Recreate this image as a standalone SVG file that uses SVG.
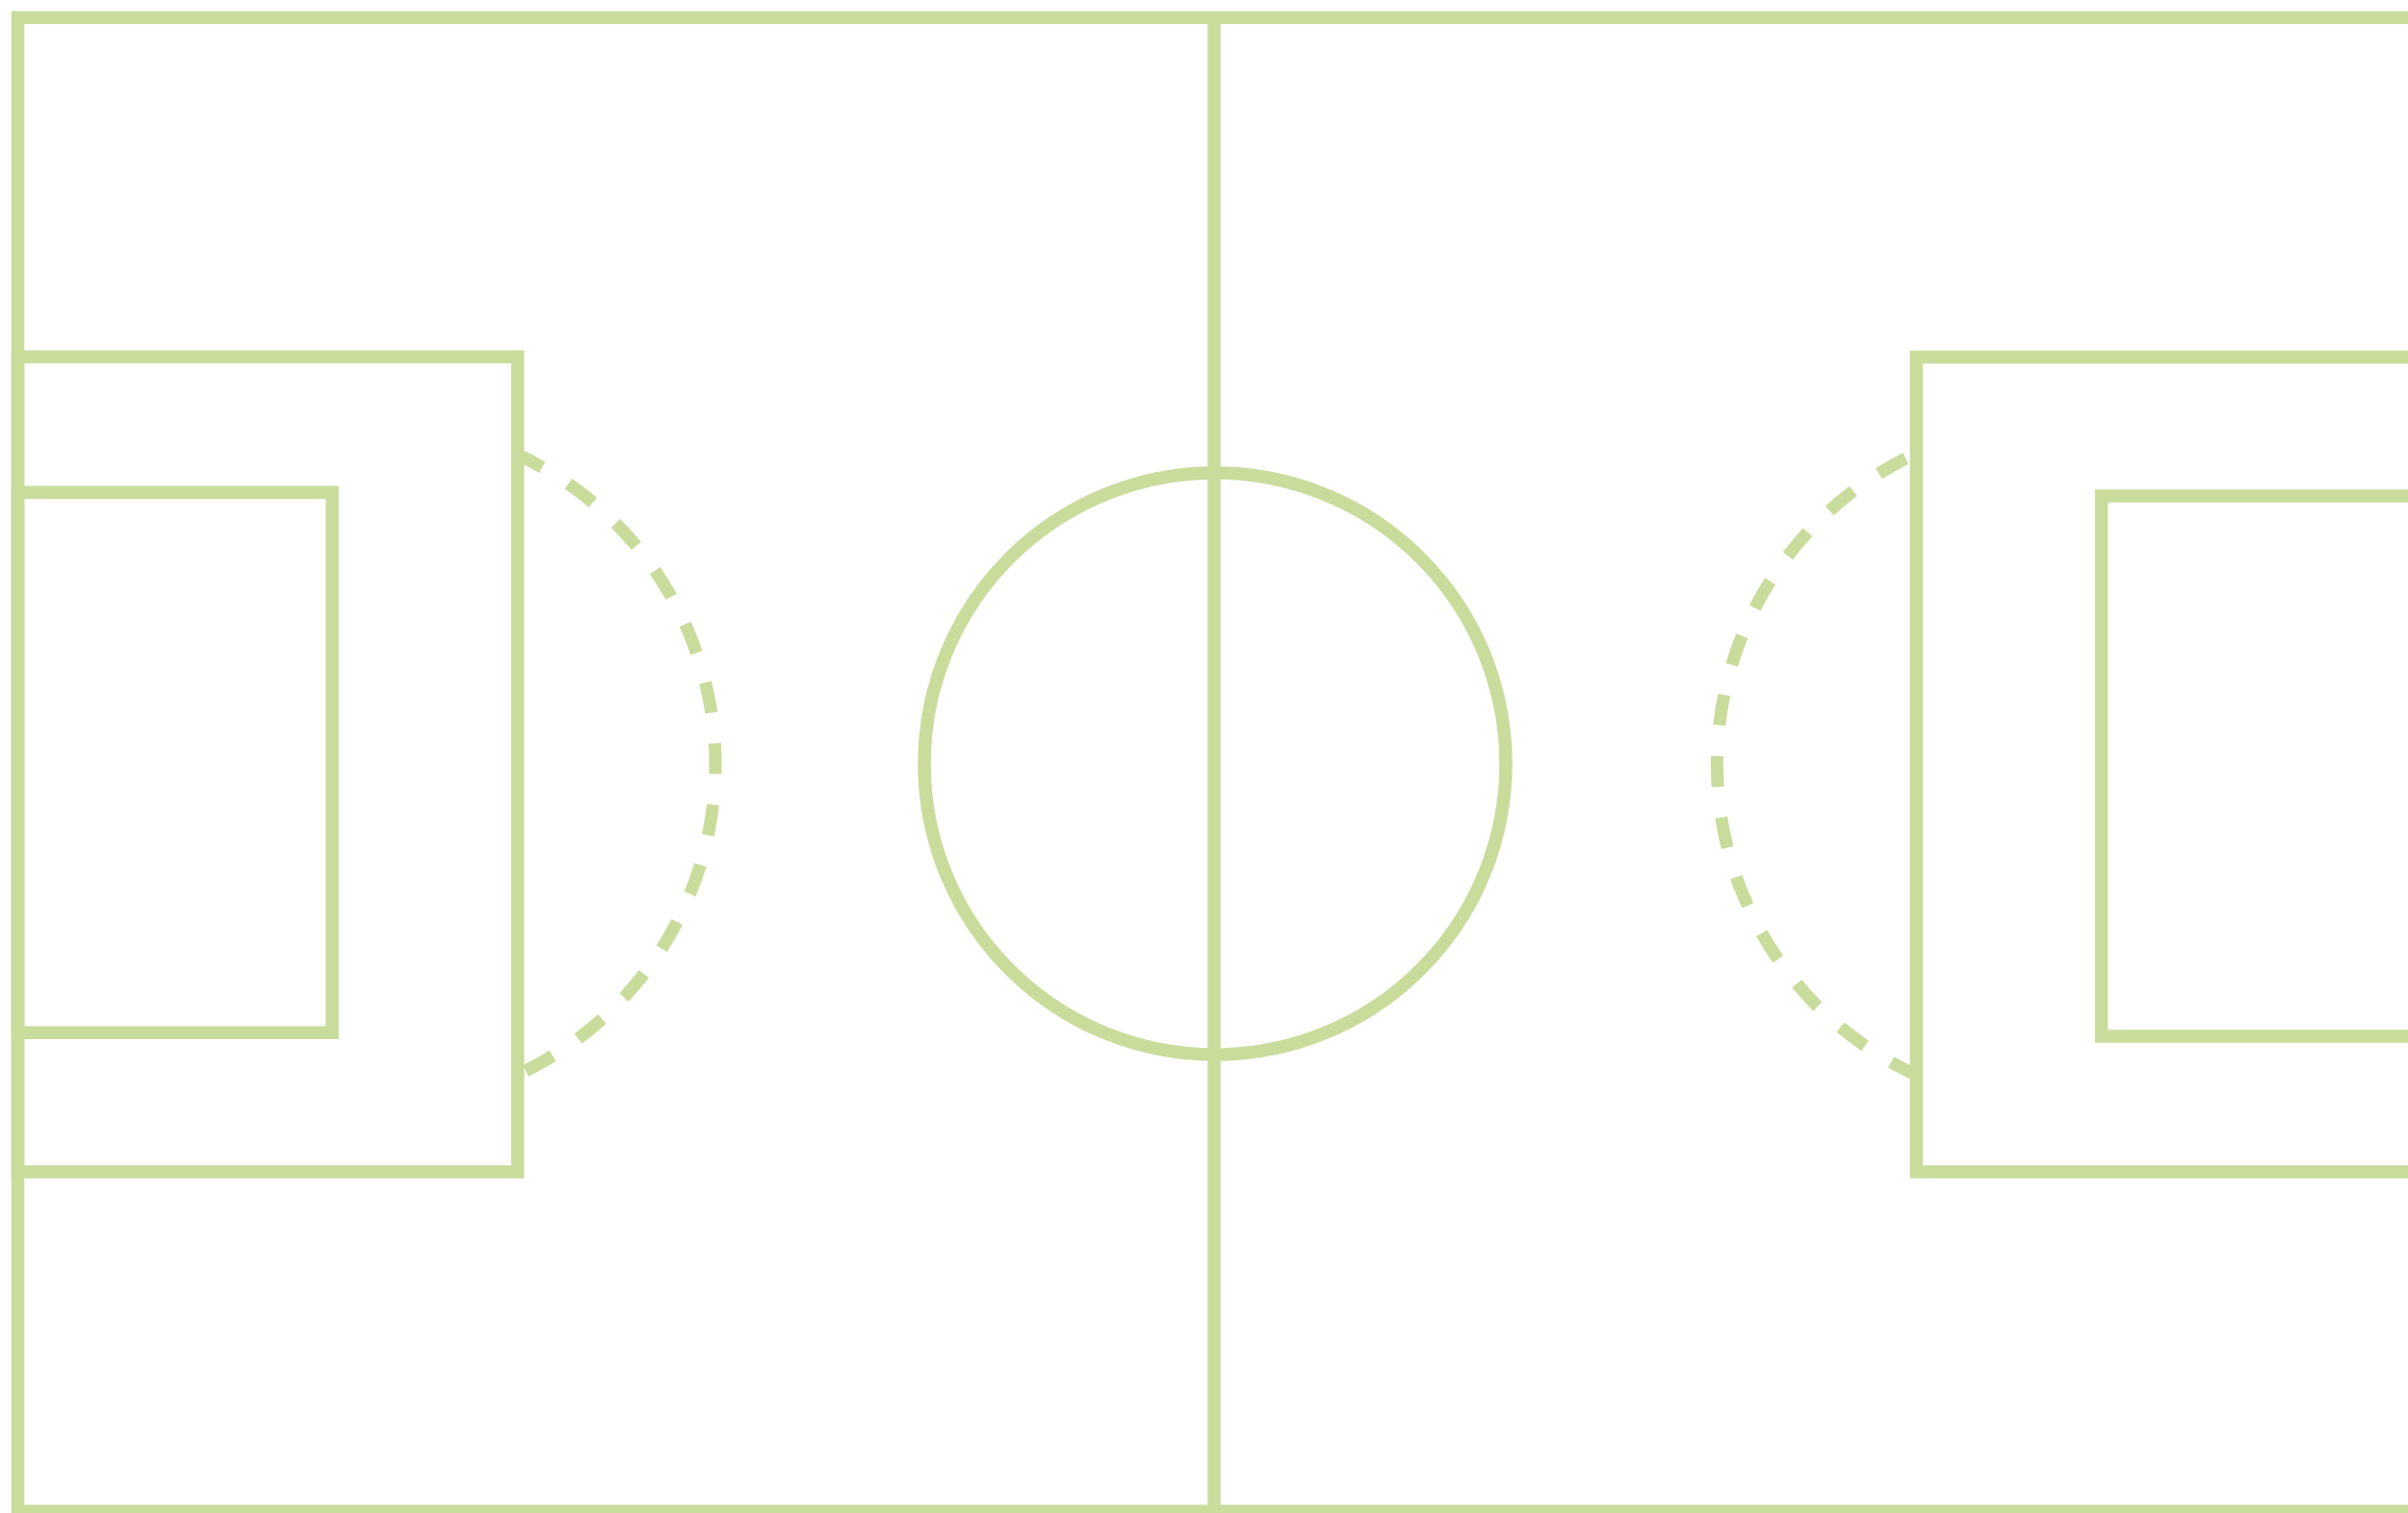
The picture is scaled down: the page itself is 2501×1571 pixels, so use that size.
<svg xmlns="http://www.w3.org/2000/svg" width="2501" height="1571" viewBox="0 0 2501 1571">
  <style>
    .ln { fill: none; stroke: #c9dc9c; stroke-width: 13.5; }
    .dash { fill: none; stroke: #c9dc9c; stroke-width: 13; stroke-dasharray: 32 32; stroke-dashoffset: 3; }
  </style>
  <rect x="0" y="0" width="2501" height="1571" fill="#ffffff"/>
  <g id="field">
    <rect class="ln" x="18.5" y="18.25" width="2500" height="1551"/>
  </g>
  <g id="halfway-line">
    <line class="ln" x1="1261" y1="18" x2="1261" y2="1571"/>
  </g>
  <g id="centre-circle">
    <circle class="ln" cx="1262" cy="793" r="302"/>
  </g>
  <g id="left-penalty-area">
    <rect class="ln" x="18.5" y="370.5" width="519.2" height="846.3"/>
  </g>
  <g id="left-goal-area">
    <rect class="ln" x="18.5" y="511.3" width="326.5" height="560.9"/>
  </g>
  <g id="right-penalty-area">
    <rect class="ln" x="1990.4" y="370.8" width="600" height="845.9"/>
  </g>
  <g id="right-goal-area">
    <rect class="ln" x="2182.6" y="515" width="400" height="561"/>
  </g>
  <g id="arcs">
    <path class="dash" d="M 537.5 472 A 355 355 0 0 1 537.5 1116"/>
    <path class="dash" d="M 1990 1116 A 355 355 0 0 1 1990 471"/>
  </g>
</svg>
